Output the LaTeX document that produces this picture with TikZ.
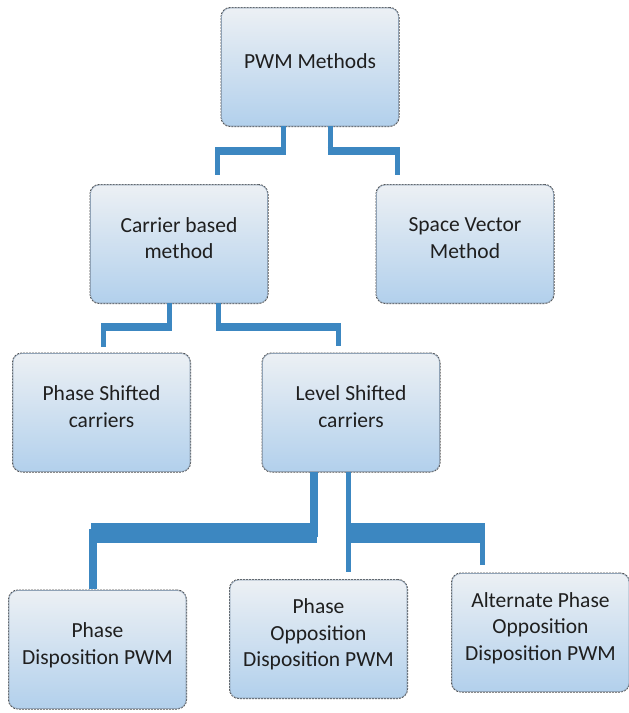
\documentclass[tikz,border=0pt]{standalone}
\usepackage{fontspec}
\setmainfont{Carlito}
\definecolor{boxtop}{HTML}{ECF0F4}
\definecolor{boxbot}{HTML}{B2D0EC}
\definecolor{boxedge}{HTML}{8FA2B6}
\definecolor{connblue}{HTML}{3C87C1}
\begin{document}
\begin{tikzpicture}[x=1pt,y=-1pt,
  box/.style={rounded corners=9pt,minimum width=177pt,minimum height=118pt,
    top color=boxtop,bottom color=boxbot,draw=boxedge,line width=0.6pt,
    preaction={draw=black!70,densely dotted,line width=2pt},
    align=center,text=black!88,text depth=12pt,
    font=\fontsize{21.5}{26.5}\selectfont},
  conn/.style={draw=connblue,line width=#1},
  conn/.default=5pt,
  hbar/.style={draw=connblue,line width=#1,shorten <=-2.5pt,shorten >=-2.5pt}]%
% PWM methods tree, units are pixels of the page
\useasboundingbox (0,0) rectangle (629,713);
\node[box] (pwm) at (310,67) {PWM Methods};
\node[box] (carrier) at (179,244) {Carrier based\\method};
\node[box] (svm) at (465,244) {Space Vector\\Method};
\node[box] (psc) at (101.5,412.5) {Phase Shifted\\carriers};
\node[box] (lsc) at (351,412.5) {Level Shifted\\carriers};
\node[box] (pd) at (97.5,649.5) {Phase\\Disposition PWM};
\node[box] (pod) at (318.5,639) {Phase\\Opposition\\Disposition PWM};
\node[box] (apod) at (540.5,632.5) {Alternate Phase\\Opposition\\Disposition PWM};
% free ends of the connectors
\coordinate (e1) at ([xshift=38pt,yshift=10pt]carrier.north);
\coordinate (e2) at ([xshift=-68pt,yshift=10pt]svm.north);
\coordinate (e3) at ([xshift=1.5pt,yshift=6pt]psc.north);
\coordinate (e4) at ([xshift=-13pt,yshift=7pt]lsc.north);
\coordinate (e5) at ([xshift=-4.5pt,yshift=1pt]pd.north);
\coordinate (e6) at ([xshift=30pt,yshift=8pt]pod.north);
\coordinate (e7) at ([xshift=-58pt,yshift=8pt]apod.north);
% pwm -> carrier, space vector
\draw[conn] ([xshift=-27pt]pwm.south) -- ++(0,25) coordinate (k1) -| (e1);
\draw[hbar=8pt] (k1) -- (k1 -| e1);
\draw[conn] ([xshift=20pt]pwm.south) -- ++(0,25) coordinate (k2) -| (e2);
\draw[hbar=8pt] (k2) -- (k2 -| e2);
% carrier -> phase shifted, level shifted
\draw[conn] ([xshift=-10pt]carrier.south) -- ++(0,24) coordinate (k3) -| (e3);
\draw[hbar=8pt] (k3) -- (k3 -| e3);
\draw[conn] ([xshift=39pt]carrier.south) -- ++(0,24) coordinate (k4) -| (e4);
\draw[hbar=8pt] (k4) -- (k4 -| e4);
% level shifted -> pd, pod, apod
\draw[conn=8pt] ([xshift=-37pt]lsc.south) -- ++(0,61) coordinate (k5) -| (e5);
\draw[hbar=20pt] (k5) -- (k5 -| e5);
\draw[conn] ([xshift=-2.5pt]lsc.south) -- (e6);
\draw[conn] ([xshift=-2.5pt]lsc.south) -- ++(0,61) coordinate (k7) -| (e7);
\draw[hbar=20pt] (k7) -- (k7 -| e7);
\end{tikzpicture}
\end{document}
